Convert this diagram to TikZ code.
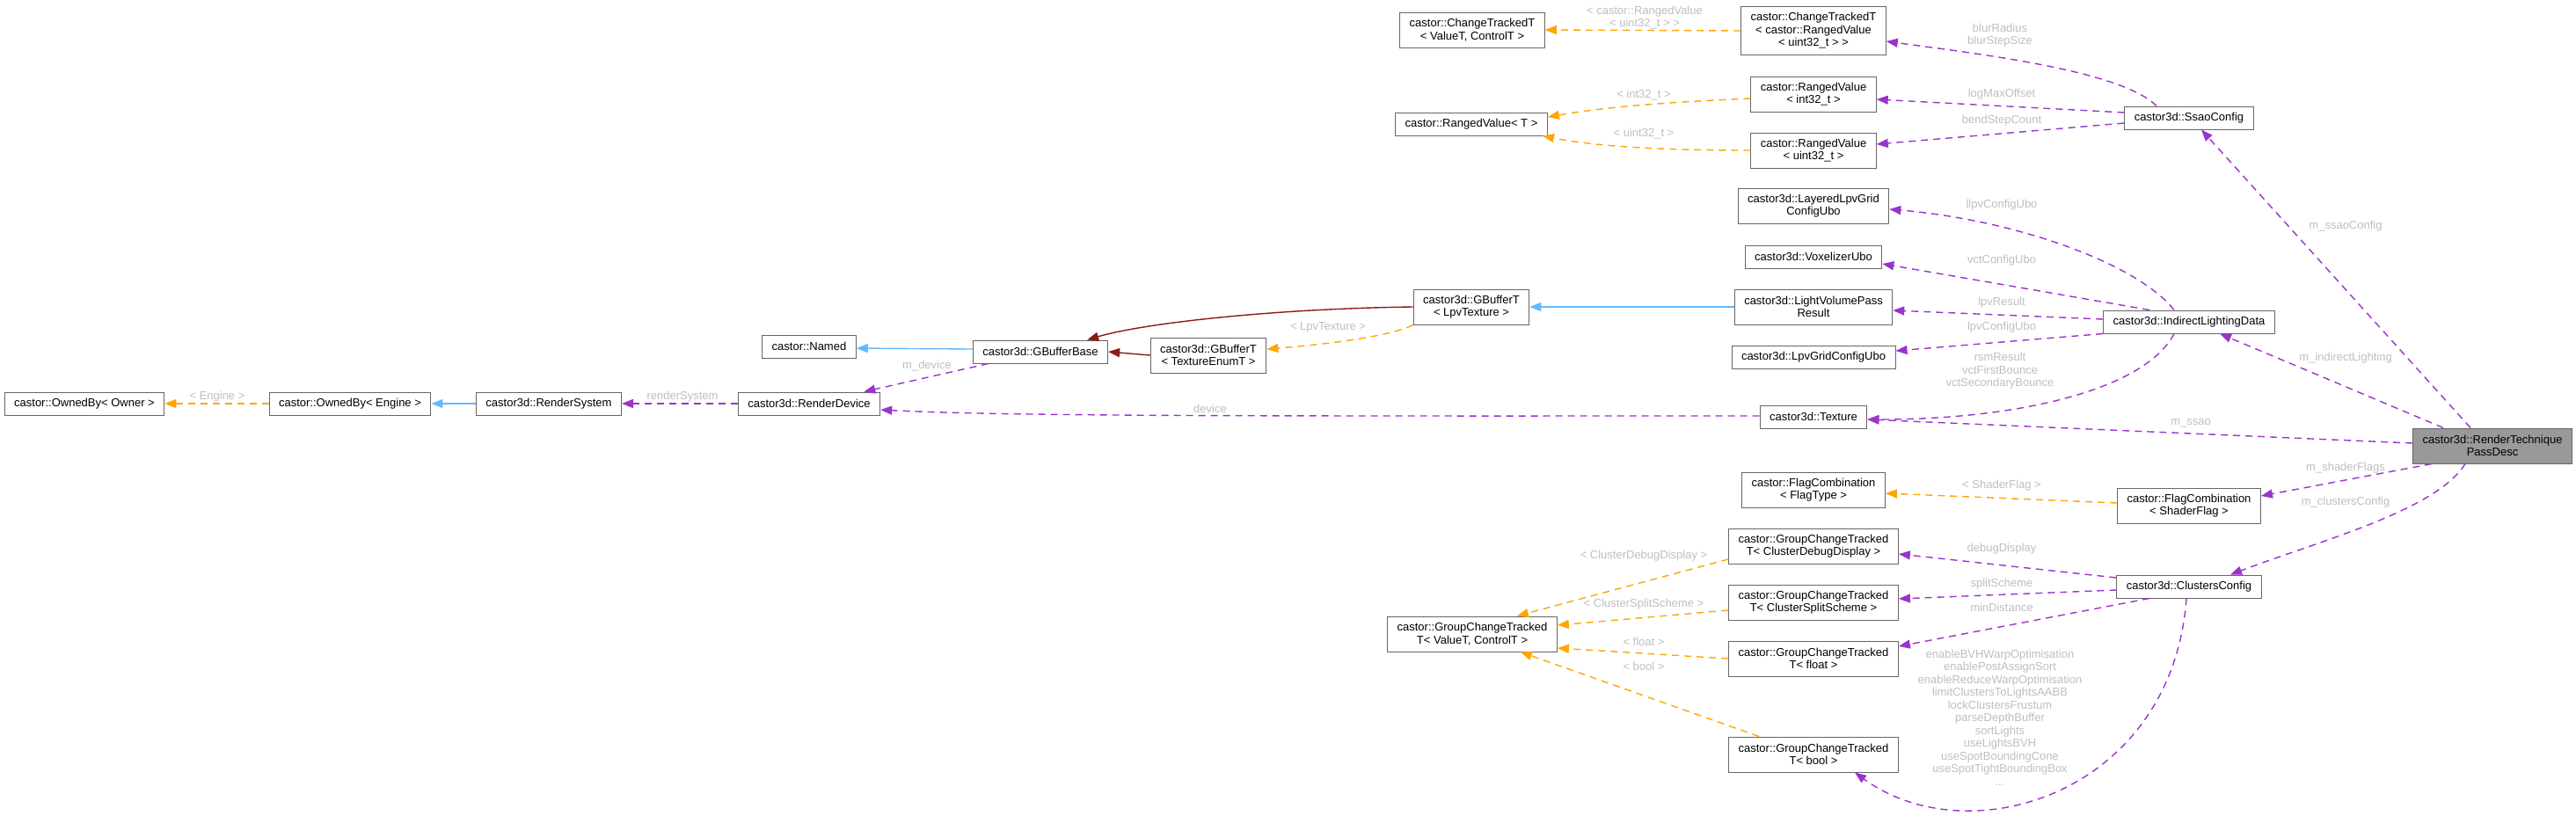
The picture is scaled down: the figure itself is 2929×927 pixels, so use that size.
\documentclass[tikz,border=0pt]{standalone}
\usepackage{fontspec}
\setmainfont{Liberation Sans}
\usetikzlibrary{arrows.meta}
\definecolor{orchid}{HTML}{9A32CD}
\definecolor{tmplorange}{HTML}{FFA500}
\definecolor{pubblue}{HTML}{63B8FF}
\definecolor{protred}{HTML}{8B1A1A}
\definecolor{lblgray}{HTML}{BEBEBE}
\begin{document}
\begin{tikzpicture}[x=1pt,y=-1pt,
  every node/.style={font=\fontsize{13}{14.5}\selectfont},
  cls/.style={draw=black!60,line width=1pt,fill=white,align=center,inner xsep=11pt,inner ysep=2pt,minimum height=26pt},
  cls2/.style={cls,minimum height=40pt},
  cls3/.style={cls,minimum height=55pt},
  focus/.style={cls2,fill=black!40},
  member/.style={draw=orchid,line width=1.4pt,dash pattern=on 8pt off 6pt,-{Triangle[length=13pt,width=10pt]}},
  templ/.style={member,draw=tmplorange},
  inherit/.style={draw=pubblue,line width=1.4pt,-{Triangle[length=13pt,width=10pt]}},
  protinherit/.style={inherit,draw=protred},
  elabel/.style={text=lblgray,align=center,inner sep=0pt}]
\useasboundingbox (0,0) rectangle (2929,927);
% classes
\node[cls] (obo) at (96,459) {castor::OwnedBy< Owner >};
\node[cls] (obe) at (398,459) {castor::OwnedBy< Engine >};
\node[cls] (rsys) at (624,459) {castor3d::RenderSystem};
\node[cls] (rdev) at (920,459) {castor3d::RenderDevice};
\node[cls] (named) at (920,394) {castor::Named};
\node[cls] (gbb) at (1183,400) {castor3d::GBufferBase};
\node[cls2] (gbte) at (1374,404) {castor3d::GBufferT\\< TextureEnumT >};
\node[cls2] (gbtl) at (1673,349) {castor3d::GBufferT\\< LpvTexture >};
\node[cls2] (ctvt) at (1674,34) {castor::ChangeTrackedT\\< ValueT, ControlT >};
\node[cls] (rvt) at (1673,141) {castor::RangedValue< T >};
\node[cls3] (ctrv) at (2062,35) {castor::ChangeTrackedT\\< castor::RangedValue\\< uint32\_t > >};
\node[cls2] (rvi) at (2062,107) {castor::RangedValue\\< int32\_t >};
\node[cls2] (rvu) at (2062,171) {castor::RangedValue\\< uint32\_t >};
\node[cls] (ssao) at (2489,134) {castor3d::SsaoConfig};
\node[cls2] (llpv) at (2062,234) {castor3d::LayeredLpvGrid\\ConfigUbo};
\node[cls] (vox) at (2062,292) {castor3d::VoxelizerUbo};
\node[cls2] (lvpr) at (2062,349) {castor3d::LightVolumePass\\Result};
\node[cls] (lpvg) at (2062,406) {castor3d::LpvGridConfigUbo};
\node[cls] (ild) at (2489,366) {castor3d::IndirectLightingData};
\node[cls] (tex) at (2062,474) {castor3d::Texture};
\node[focus] (rtpd) at (2834,507) {castor3d::RenderTechnique\\PassDesc};
\node[cls2] (fct) at (2062,557) {castor::FlagCombination\\< FlagType >};
\node[cls2] (fcs) at (2489,575) {castor::FlagCombination\\< ShaderFlag >};
\node[cls] (cc) at (2489,667) {castor3d::ClustersConfig};
\node[cls2] (gcd) at (2062,621) {castor::GroupChangeTracked\\T< ClusterDebugDisplay >};
\node[cls2] (gcs) at (2062,685) {castor::GroupChangeTracked\\T< ClusterSplitScheme >};
\node[cls2] (gcf) at (2062,749) {castor::GroupChangeTracked\\T< float >};
\node[cls2] (gcb) at (2062,858) {castor::GroupChangeTracked\\T< bool >};
\node[cls2] (gcv) at (1674,721) {castor::GroupChangeTracked\\T< ValueT, ControlT >};
% inheritance
\draw[inherit] (rsys.west) -- (obe.east);
\draw[inherit] ([yshift=3pt]gbb.west) -- ([yshift=-2pt]named.east);
\draw[inherit] (lvpr.west) -- (gbtl.east);
\draw[protinherit] (gbte.west) -- (gbb.east);
\draw[protinherit] (gbtl.west) .. controls +(-158,2) and +(64,-19) .. ([xshift=-24pt]gbb.north east);
% template instances
\draw[templ] (obe.west) -- (obo.east);
\draw[templ] (gbtl.south west) .. controls +(-30,15) and +(50,-4) .. ([yshift=7pt]gbte.east);
\draw[templ] (ctrv.west) -- (ctvt.east);
\draw[templ] ([yshift=-5pt]rvi.west) .. controls +(-90,4) and +(70,-12) .. ([yshift=8pt]rvt.east);
\draw[templ] (rvu.west) .. controls +(-100,0) and +(60,12) .. ([xshift=-6pt]rvt.south east);
\draw[templ] ([yshift=3pt]fcs.west) -- ([yshift=-4pt]fct.east);
\draw[templ] ([yshift=-15pt]gcd.west) -- ([xshift=-46pt]gcv.north east);
\draw[templ] ([yshift=-9pt]gcs.west) -- ([yshift=10pt]gcv.east);
\draw[templ] (gcf.west) -- ([yshift=-16pt]gcv.east);
\draw[templ] ([xshift=-62pt]gcb.north) -- ([xshift=-42pt]gcv.south east);
% members
\draw[member] (rdev.west) -- (rsys.east);
\draw[member] ([xshift=18pt]gbb.south west) -- ([xshift=-19pt]rdev.north east);
\draw[member] ([yshift=1pt]tex.west) .. controls +(-500,0) and +(150,8) .. ([yshift=-7pt]rdev.east);
\draw[member] ([xshift=-37pt]ssao.north) .. controls +(-40,-40) and +(110,15) .. ([yshift=-12pt]ctrv.east);
\draw[member] ([yshift=6pt]ssao.west) -- ([yshift=-6pt]rvi.east);
\draw[member] ([yshift=-6pt]ssao.west) -- ([yshift=7pt]rvu.east);
\draw[member] ([xshift=-17pt]ild.north) .. controls +(-42,-53) and +(143,12) .. ([yshift=-4pt]llpv.east);
\draw[member] ([xshift=-45pt]ild.north) -- ([yshift=-8pt]vox.east);
\draw[member] ([yshift=3pt]ild.west) -- ([yshift=-4pt]lvpr.east);
\draw[member] (ild.south west) -- ([yshift=7pt]lpvg.east);
\draw[member] ([xshift=-17pt]ild.south) .. controls +(-32,62) and +(177,0) .. ([yshift=-3pt]tex.east);
\draw[member] ([xshift=-25pt]rtpd.north) -- ([xshift=14pt]ssao.south);
\draw[member] ([xshift=-56pt]rtpd.north) -- ([xshift=35pt]ild.south);
\draw[member] ([yshift=3pt]rtpd.west) -- ([yshift=-3pt]tex.east);
\draw[member] ([xshift=-69pt]rtpd.south) -- ([yshift=11pt]fcs.east);
\draw[member] ([xshift=-31pt]rtpd.south) .. controls +(-33,53) and +(103,-39) .. ([xshift=47pt]cc.north);
\draw[member] ([yshift=10pt]cc.west) -- ([yshift=-9pt]gcd.east);
\draw[member] ([yshift=-4pt]cc.west) -- ([yshift=4pt]gcs.east);
\draw[member] ([xshift=-45pt]cc.south) -- ([yshift=14pt]gcf.east);
\draw[member] ([xshift=-3pt]cc.south) .. controls +(-16,221) and +(131,95) .. ([xshift=47pt]gcb.south);
% edge labels
\node[elabel] (lengine) at (247,451) {< Engine >};
\node[elabel] (lrsys) at (776,451) {renderSystem};
\node[elabel] (lmdev) at (1054,416) {m\_device};
\node[elabel] (ldev) at (1376,465) {device};
\node[elabel] (llpvtex) at (1510,372) {< LpvTexture >};
\node[elabel] (lctrv) at (1870,20) {< castor::RangedValue\\< uint32\_t > >};
\node[elabel] (lint) at (1869,108) {< int32\_t >};
\node[elabel] (luint) at (1869,152) {< uint32\_t >};
\node[elabel] (lblur) at (2274,40) {blurRadius\\blurStepSize};
\node[elabel] (llog) at (2276,107) {logMaxOffset};
\node[elabel] (lbend) at (2276,137) {bendStepCount};
\node[elabel] (lllpv) at (2276,233) {llpvConfigUbo};
\node[elabel] (lvct) at (2276,296) {vctConfigUbo};
\node[elabel] (llpvres) at (2276,344) {lpvResult};
\node[elabel] (llpvcfg) at (2276,372) {lpvConfigUbo};
\node[elabel] (lrsm) at (2274,422) {rsmResult\\vctFirstBounce\\vctSecondaryBounce};
\node[elabel] (lmssaocfg) at (2667,257) {m\_ssaoConfig};
\node[elabel] (lmind) at (2667,407) {m\_indirectLighting};
\node[elabel] (lmssao) at (2491,481) {m\_ssao};
\node[elabel] (lmshader) at (2667,532) {m\_shaderFlags};
\node[elabel] (lmclusters) at (2667,571) {m\_clustersConfig};
\node[elabel] (lshader) at (2276,552) {< ShaderFlag >};
\node[elabel] (ldebug) at (2276,624) {debugDisplay};
\node[elabel] (lsplit) at (2276,664) {splitScheme};
\node[elabel] (lmindist) at (2276,691) {minDistance};
\node[elabel] (lbools) at (2274,816) {enableBVHWarpOptimisation\\enablePostAssignSort\\enableReduceWarpOptimisation\\limitClustersToLightsAABB\\lockClustersFrustum\\parseDepthBuffer\\sortLights\\useLightsBVH\\useSpotBoundingCone\\useSpotTightBoundingBox\\...};
\node[elabel] (lcdd) at (1869,632) {< ClusterDebugDisplay >};
\node[elabel] (lcss) at (1869,687) {< ClusterSplitScheme >};
\node[elabel] (lfloat) at (1869,730) {< float >};
\node[elabel] (lbool) at (1869,758) {< bool >};
\end{tikzpicture}
\end{document}
